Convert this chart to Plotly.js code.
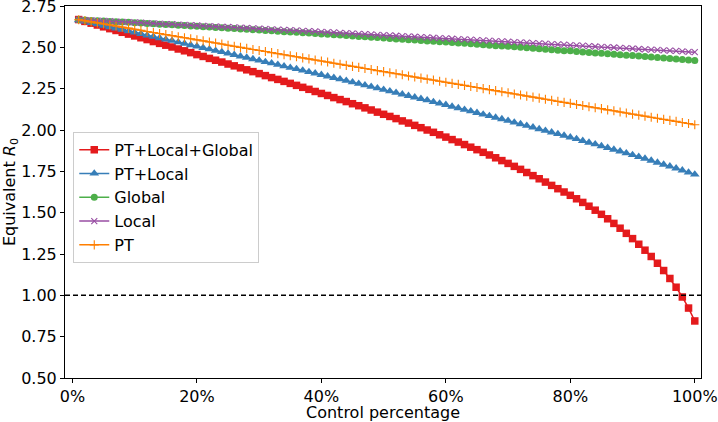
<!DOCTYPE html>
<html>
<head>
<meta charset="utf-8">
<script src="https://cdn.plot.ly/plotly-3.0.1.min.js"></script>
<style>
html,body{margin:0;padding:0;background:#fff;}
#chart{width:718px;height:422px;}
</style>
</head>
<body>
<div id="chart"></div>
<script>
const controlPct = [1,2,3,4,5,6,7,8,9,10,11,12,13,14,15,16,17,18,19,20,
21,22,23,24,25,26,27,28,29,30,31,32,33,34,35,36,37,38,39,40,
41,42,43,44,45,46,47,48,49,50,51,52,53,54,55,56,57,58,59,60,
61,62,63,64,65,66,67,68,69,70,71,72,73,74,75,76,77,78,79,80,
81,82,83,84,85,86,87,88,89,90,91,92,93,94,95,96,97,98,99,100];

const ptLocalGlobal = [2.668,2.657,2.646,2.635,2.624,2.613,2.602,2.591,2.580,2.569,
2.558,2.547,2.535,2.524,2.513,2.502,2.490,2.479,2.468,2.456,
2.445,2.433,2.422,2.411,2.399,2.388,2.376,2.364,2.353,2.341,
2.329,2.317,2.306,2.294,2.282,2.270,2.258,2.246,2.233,2.221,
2.209,2.196,2.184,2.172,2.159,2.147,2.134,2.121,2.108,2.095,
2.082,2.069,2.055,2.042,2.028,2.014,2.000,1.986,1.971,1.957,
1.942,1.927,1.912,1.896,1.881,1.865,1.849,1.832,1.815,1.798,
1.780,1.762,1.743,1.724,1.705,1.685,1.665,1.645,1.625,1.605,
1.584,1.562,1.539,1.515,1.490,1.463,1.435,1.406,1.375,1.343,
1.309,1.273,1.235,1.194,1.150,1.102,1.049,0.990,0.923,0.845];

const ptLocal = [2.665,2.657,2.648,2.640,2.632,2.623,2.615,2.607,2.598,2.590,
2.582,2.573,2.565,2.556,2.548,2.540,2.531,2.523,2.514,2.506,
2.497,2.489,2.480,2.472,2.463,2.455,2.446,2.438,2.429,2.421,
2.412,2.404,2.395,2.386,2.377,2.369,2.360,2.351,2.343,2.334,
2.325,2.316,2.307,2.298,2.289,2.280,2.271,2.262,2.253,2.244,
2.235,2.226,2.216,2.207,2.198,2.189,2.180,2.170,2.161,2.152,
2.142,2.133,2.123,2.114,2.104,2.094,2.085,2.075,2.066,2.056,
2.046,2.036,2.026,2.016,2.006,1.996,1.986,1.976,1.966,1.956,
1.946,1.935,1.924,1.914,1.903,1.892,1.882,1.871,1.860,1.849,
1.838,1.827,1.815,1.803,1.791,1.780,1.768,1.756,1.743,1.731];

const globalOnly = [2.667,2.665,2.663,2.661,2.659,2.657,2.655,2.653,2.651,2.649,
2.647,2.644,2.642,2.640,2.638,2.636,2.634,2.632,2.629,2.627,
2.625,2.623,2.620,2.618,2.616,2.614,2.611,2.609,2.607,2.605,
2.602,2.600,2.598,2.595,2.593,2.591,2.588,2.586,2.583,2.581,
2.579,2.576,2.574,2.571,2.569,2.566,2.564,2.561,2.559,2.557,
2.554,2.551,2.549,2.546,2.545,2.542,2.539,2.537,2.534,2.532,
2.529,2.526,2.524,2.521,2.519,2.516,2.513,2.510,2.508,2.506,
2.503,2.500,2.497,2.494,2.492,2.489,2.486,2.483,2.480,2.479,
2.475,2.472,2.469,2.466,2.464,2.461,2.458,2.455,2.452,2.450,
2.447,2.444,2.441,2.438,2.436,2.432,2.429,2.426,2.423,2.420];

const localOnly = [2.667,2.665,2.663,2.661,2.660,2.658,2.656,2.654,2.652,2.651,
2.649,2.647,2.645,2.643,2.641,2.640,2.638,2.636,2.634,2.632,
2.630,2.628,2.626,2.624,2.623,2.621,2.619,2.617,2.615,2.613,
2.611,2.609,2.607,2.605,2.604,2.602,2.600,2.598,2.596,2.594,
2.592,2.590,2.588,2.586,2.584,2.582,2.580,2.578,2.576,2.574,
2.572,2.570,2.568,2.566,2.564,2.562,2.560,2.558,2.556,2.554,
2.552,2.550,2.548,2.546,2.544,2.542,2.540,2.538,2.536,2.534,
2.532,2.530,2.528,2.526,2.524,2.522,2.520,2.518,2.516,2.514,
2.512,2.510,2.507,2.505,2.503,2.501,2.499,2.497,2.495,2.493,
2.490,2.488,2.486,2.484,2.482,2.480,2.478,2.475,2.473,2.471];

const ptOnly = [2.667,2.661,2.654,2.648,2.641,2.635,2.629,2.622,2.616,2.609,
2.603,2.596,2.590,2.584,2.577,2.571,2.564,2.558,2.552,2.545,
2.539,2.532,2.526,2.520,2.513,2.507,2.500,2.494,2.487,2.481,
2.475,2.468,2.462,2.455,2.449,2.443,2.436,2.430,2.423,2.417,
2.411,2.404,2.398,2.391,2.385,2.379,2.372,2.366,2.359,2.353,
2.346,2.340,2.334,2.327,2.321,2.314,2.308,2.302,2.295,2.289,
2.282,2.276,2.270,2.263,2.257,2.250,2.244,2.238,2.231,2.225,
2.218,2.212,2.205,2.199,2.193,2.186,2.180,2.173,2.167,2.161,
2.154,2.148,2.141,2.135,2.129,2.122,2.116,2.109,2.103,2.096,
2.090,2.084,2.077,2.071,2.064,2.058,2.052,2.045,2.039,2.032];

const seriesNames = ['PT+Local+Global','PT+Local','Global','Local','PT'];
const xTickVals = [0,20,40,60,80,100];
const xTickText = ['0%','20%','40%','60%','80%','100%'];
const yTickVals = [0.5,0.75,1.0,1.25,1.5,1.75,2.0,2.25,2.5,2.75];
const yTickText = ['0.50','0.75','1.00','1.25','1.50','1.75','2.00','2.25','2.50','2.75'];
const xTitle = 'Control percentage';
const yTitle = 'Equivalent <i>R</i><sub>0</sub>';
const thresholdR0 = 1.0;

const FONT = 'DejaVu Sans, Liberation Sans, sans-serif';
const FS = 16;

const traces = [
  {x: controlPct, y: ptLocalGlobal, name: seriesNames[0], mode: 'lines+markers',
   line: {color: '#e41a1c', width: 1.5},
   marker: {symbol: 'square', size: 7.5, color: '#e41a1c'}},
  {x: controlPct, y: ptLocal, name: seriesNames[1], mode: 'lines+markers',
   line: {color: '#377eb8', width: 1.5},
   marker: {symbol: 'triangle-up', size: 8.5, color: '#377eb8'}},
  {x: controlPct, y: globalOnly, name: seriesNames[2], mode: 'lines+markers',
   line: {color: '#4daf4a', width: 1.5},
   marker: {symbol: 'circle', size: 7, color: '#4daf4a'}},
  {x: controlPct, y: localOnly, name: seriesNames[3], mode: 'lines+markers',
   line: {color: '#984ea3', width: 1.5},
   marker: {symbol: 'x-thin', size: 6, color: '#984ea3', line: {color: '#984ea3', width: 1.1}}},
  {x: controlPct, y: ptOnly, name: seriesNames[4], mode: 'lines+markers',
   line: {color: '#ff7f00', width: 1.5},
   marker: {symbol: 'cross-thin', size: 6.5, color: '#ff7f00', line: {color: '#ff7f00', width: 1.1}}}
];

const layout = {
  width: 718, height: 422,
  margin: {l: 65, r: 17, t: 6, b: 44},
  paper_bgcolor: '#ffffff', plot_bgcolor: '#ffffff',
  font: {family: FONT, size: FS, color: '#000'},
  showlegend: true,
  legend: {
    x: 0.013, y: 0.662, xanchor: 'left', yanchor: 'top',
    bgcolor: 'rgba(255,255,255,0.8)', bordercolor: '#cccccc', borderwidth: 1,
    font: {family: FONT, size: FS, color: '#000'},
    tracegroupgap: 0
  },
  xaxis: {
    range: [-1.2, 101],
    tickvals: xTickVals, ticktext: xTickText,
    ticks: 'outside', ticklen: 4, tickwidth: 1, tickcolor: '#000',
    showline: true, linecolor: '#000', linewidth: 1, mirror: true,
    showgrid: false, zeroline: false,
    ticklabeloverflow: 'allow',
    tickfont: {family: FONT, size: FS, color: '#000'}
  },
  yaxis: {
    range: [0.5, 2.75],
    tickvals: yTickVals, ticktext: yTickText,
    ticks: 'outside', ticklen: 4, tickwidth: 1, tickcolor: '#000',
    showline: true, linecolor: '#000', linewidth: 1, mirror: true,
    showgrid: false, zeroline: false,
    ticklabeloverflow: 'allow',
    tickfont: {family: FONT, size: FS, color: '#000'},
    title: {text: yTitle, font: {family: FONT, size: FS, color: '#000'}, standoff: 4}
  },
  annotations: [{
    text: xTitle, xref: 'paper', yref: 'paper', x: 0.5, y: -0.0935,
    xanchor: 'center', yanchor: 'middle', showarrow: false,
    font: {family: FONT, size: FS, color: '#000'}
  }],
  shapes: [{
    type: 'line', xref: 'paper', x0: 0, x1: 1, yref: 'y', y0: thresholdR0, y1: thresholdR0,
    line: {color: '#000', width: 1.5, dash: '5px,3px'}, layer: 'above'
  }]
};

Plotly.newPlot('chart', traces, layout, {displayModeBar: false, staticPlot: true});
</script>
</body>
</html>
